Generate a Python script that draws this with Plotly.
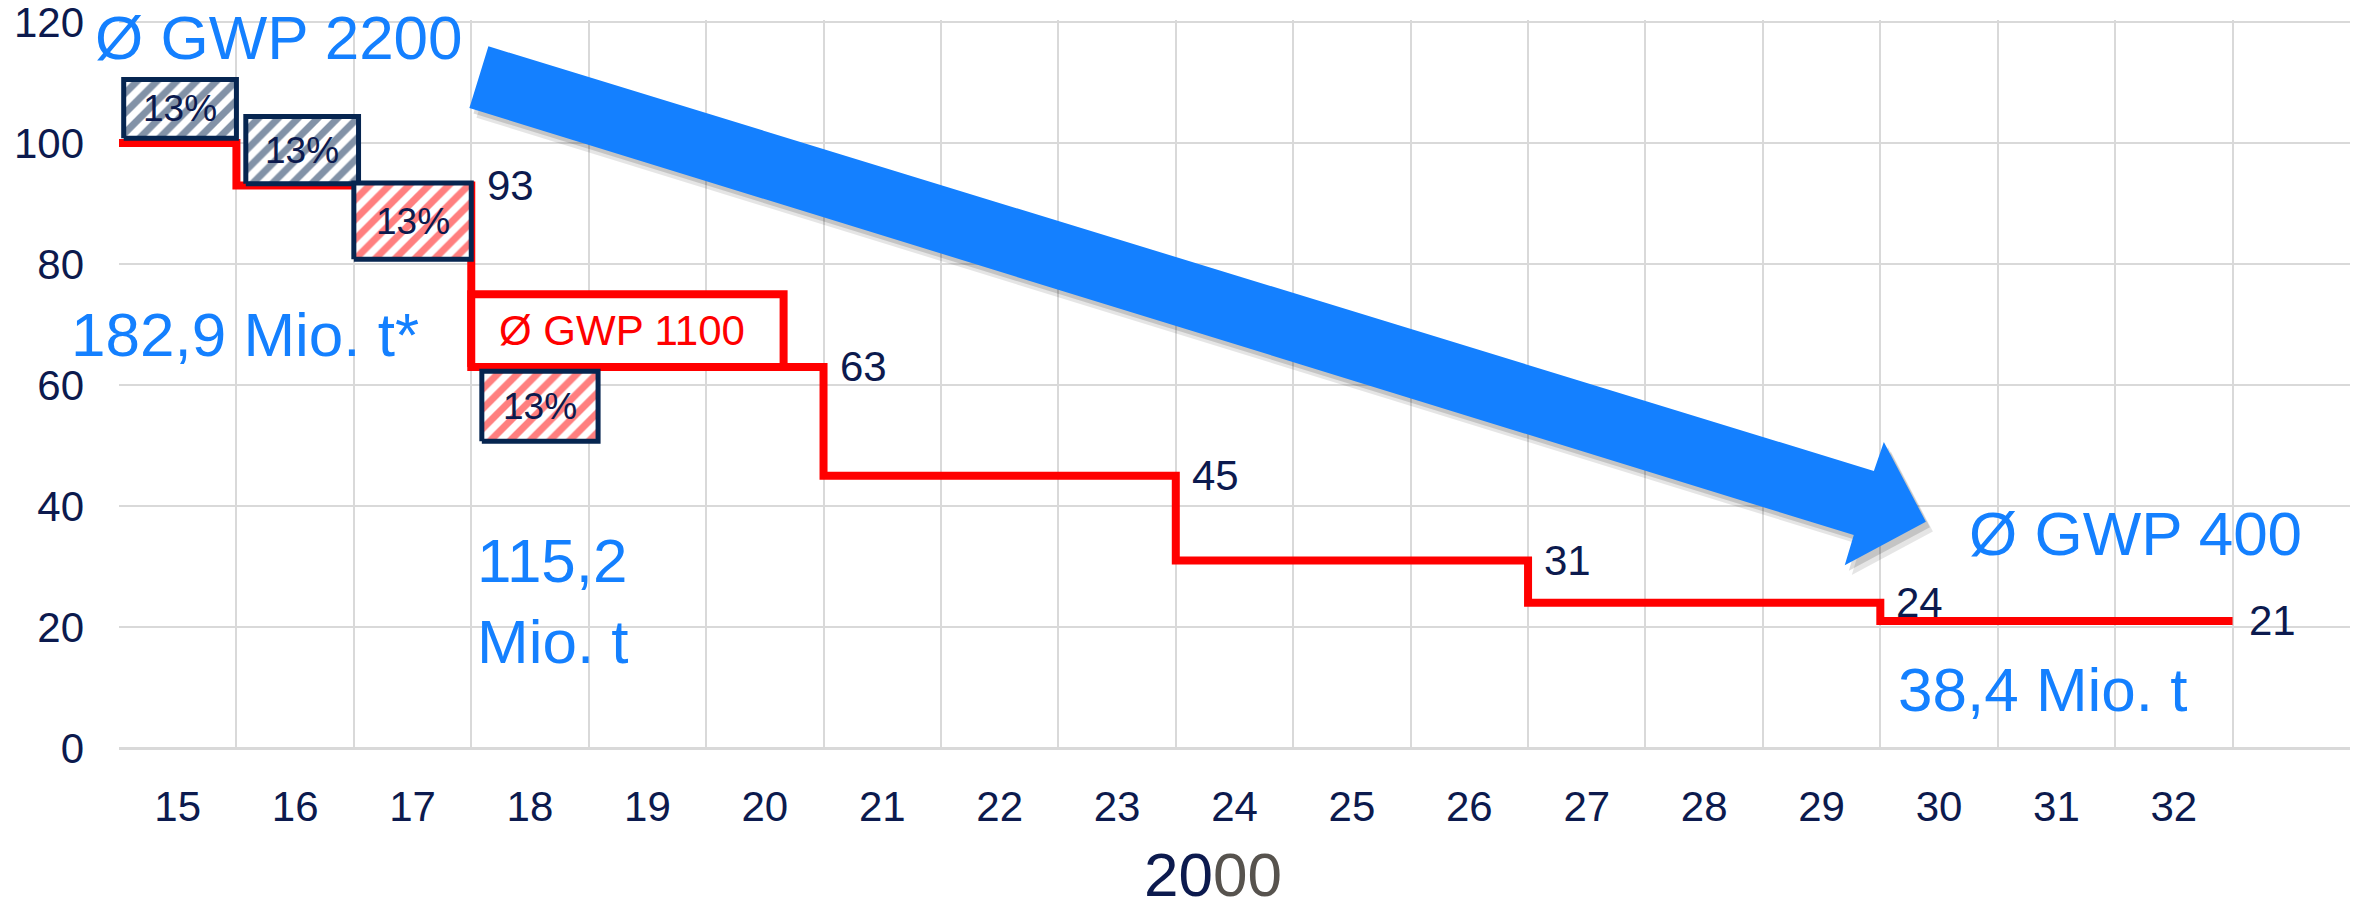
"""Stufenplan der HFKW-Mengenbegrenzung (Phase-down) als Plotly-Diagramm."""
import plotly.graph_objects as go

NAVY = "#0C1A4E"
BOX_NAVY = "#062550"
RED = "#FF0000"
BLUE = "#1480FF"
GREY = "#57534E"
GRID = "#D9D9D9"
FONT = "Liberation Sans, Arial, sans-serif"

# Jahre (20xx) und Höchstmenge in % der Basismenge
years = ["15", "16", "17", "18", "19", "20", "21", "22", "23",
         "24", "25", "26", "27", "28", "29", "30", "31", "32"]
quota_percent = [100, 93, 93, 63, 63, 63, 45, 45, 45,
                 31, 31, 31, 24, 24, 24, 21, 21, 21]

# schraffierte Kästchen "13%" (x in Jahresfeldern, y in %)
cut_x0 = [0.04, 1.08, 2.00, 3.09]
cut_x1 = [1.00, 2.04, 3.00, 4.08]
cut_y0 = [100.8, 93.3, 80.8, 50.7]
cut_y1 = [110.5, 104.4, 93.4, 62.3]
cut_label = ["13%", "13%", "13%", "13%"]
cut_color = [BOX_NAVY, BOX_NAVY, RED, RED]

# Kasten "Ø GWP 1100"
gwp_box_x = [3.0, 5.66]
gwp_box_y = [63, 75.0]

# großer Trendpfeil (Umriss)
arrow_x = [3.146, 14.945, 15.030, 15.388, 14.697, 14.774, 2.984, 3.146]
arrow_y = [116.0, 45.8, 50.6, 37.4, 30.2, 35.2, 105.8, 116.0]

n_cells = len(years) + 1

fig = go.Figure()

# Stufenlinie
step_x = list(range(len(years) + 1))
step_y = quota_percent + [quota_percent[-1]]
fig.add_trace(go.Scatter(
    x=step_x, y=step_y, mode="lines", line_shape="hv",
    line=dict(color=RED, width=8), hoverinfo="skip",
))

# Kasten Ø GWP 1100
fig.add_trace(go.Scatter(
    x=[gwp_box_x[0], gwp_box_x[1], gwp_box_x[1], gwp_box_x[0], gwp_box_x[0]],
    y=[gwp_box_y[0], gwp_box_y[0], gwp_box_y[1], gwp_box_y[1], gwp_box_y[0]],
    mode="lines", fill="toself", fillcolor="white",
    line=dict(color=RED, width=8), hoverinfo="skip",
))

# schraffierte 13%-Kästchen
for x0, x1, y0, y1, color in zip(cut_x0, cut_x1, cut_y0, cut_y1, cut_color):
    fig.add_trace(go.Scatter(
        x=[x0, x1, x1, x0, x0], y=[y0, y0, y1, y1, y0],
        mode="lines", fill="toself",
        fillpattern=dict(shape="/", fgcolor=color, bgcolor="white",
                         size=14, solidity=0.5),
        line=dict(color=BOX_NAVY, width=5), hoverinfo="skip",
    ))

# Pfeil mit Schatten
for dx, dy, alpha in [(0.06, -1.6, 0.10), (0.035, -0.9, 0.14)]:
    fig.add_trace(go.Scatter(
        x=[v + dx for v in arrow_x], y=[v + dy for v in arrow_y],
        mode="lines", fill="toself", fillcolor=f"rgba(0,0,0,{alpha})",
        line=dict(width=0), hoverinfo="skip",
    ))
fig.add_trace(go.Scatter(
    x=arrow_x, y=arrow_y, mode="lines", fill="toself", fillcolor=BLUE,
    line=dict(width=0), hoverinfo="skip",
))

annotations = []
# Werte am Stufenende
for i, value in enumerate(quota_percent):
    if i + 1 == len(quota_percent) or quota_percent[i + 1] != value:
        if i == 0:
            continue
        annotations.append(dict(
            x=i + 1, y=value, text=str(value), xanchor="left", xshift=14,
            font=dict(size=42, color=NAVY, family=FONT),
        ))

for x0, x1, y0, y1, label in zip(cut_x0, cut_x1, cut_y0, cut_y1, cut_label):
    annotations.append(dict(
        x=(x0 + x1) / 2, y=(y0 + y1) / 2, text=label,
        font=dict(size=37, color=NAVY, family=FONT),
    ))

big = dict(size=62, color=BLUE, family=FONT)
annotations += [
    dict(x=-0.22 / n_cells, xref="paper", y=117.4, text="Ø GWP 2200",
         xanchor="left", font=big),
    dict(x=-0.43 / n_cells, xref="paper", y=68.4, text="182,9 Mio. t*",
         xanchor="left", font=big),
    dict(x=3.03, y=24.3, text="115,2<br>Mio. t", xanchor="left", align="left",
         font=big),
    dict(x=15.74, y=35.5, text="Ø GWP 400", xanchor="left", font=big),
    dict(x=15.13, y=9.75, text="38,4 Mio. t", xanchor="left", font=big),
    dict(x=3.22, y=69.1, text="Ø GWP 1100", xanchor="left",
         font=dict(size=42, color=RED, family=FONT)),
]
for a in annotations:
    a.setdefault("xref", "x")
    a.setdefault("yref", "y")
    a.setdefault("showarrow", False)
    a.setdefault("yanchor", "middle")

# Achsentitel "2000" (zweifarbig)
annotations.append(dict(
    x=9.32, y=-0.2235, xref="x", yref="paper", showarrow=False,
    text=f"<span style='color:{NAVY}'>20</span><span style='color:{GREY}'>00</span>",
    font=dict(size=62, family=FONT), yanchor="bottom",
))

fig.update_layout(
    width=2361, height=912,
    margin=dict(l=119, r=11, t=20, b=164),
    plot_bgcolor="white", paper_bgcolor="white",
    showlegend=False,
    font=dict(family=FONT, color=NAVY, size=42),
    annotations=annotations,
)
fig.update_xaxes(
    range=[0, n_cells],
    tickmode="array",
    tickvals=[i + 0.5 for i in range(len(years))],
    ticktext=years,
    showgrid=False, zeroline=False, automargin=False,
    ticks="", ticklabelstandoff=30,
    tickfont=dict(size=42, color=NAVY, family=FONT),
    minor=dict(tickmode="linear", tick0=0, dtick=1, showgrid=True,
               gridcolor=GRID, gridwidth=2),
)
fig.update_yaxes(
    range=[0, 120.35], tickmode="array", tickvals=[0, 20, 40, 60, 80, 100, 120],
    showgrid=True, gridcolor=GRID, gridwidth=2,
    zeroline=True, zerolinecolor=GRID, zerolinewidth=3,
    ticks="", ticklabelstandoff=34, ticklabeloverflow="allow",
    automargin=False,
    tickfont=dict(size=42, color=NAVY, family=FONT),
)

fig.write_html(
    "out.html",
    config={"displayModeBar": False},
    post_script="document.body.style.margin='0';document.body.style.overflow='hidden';",
)
